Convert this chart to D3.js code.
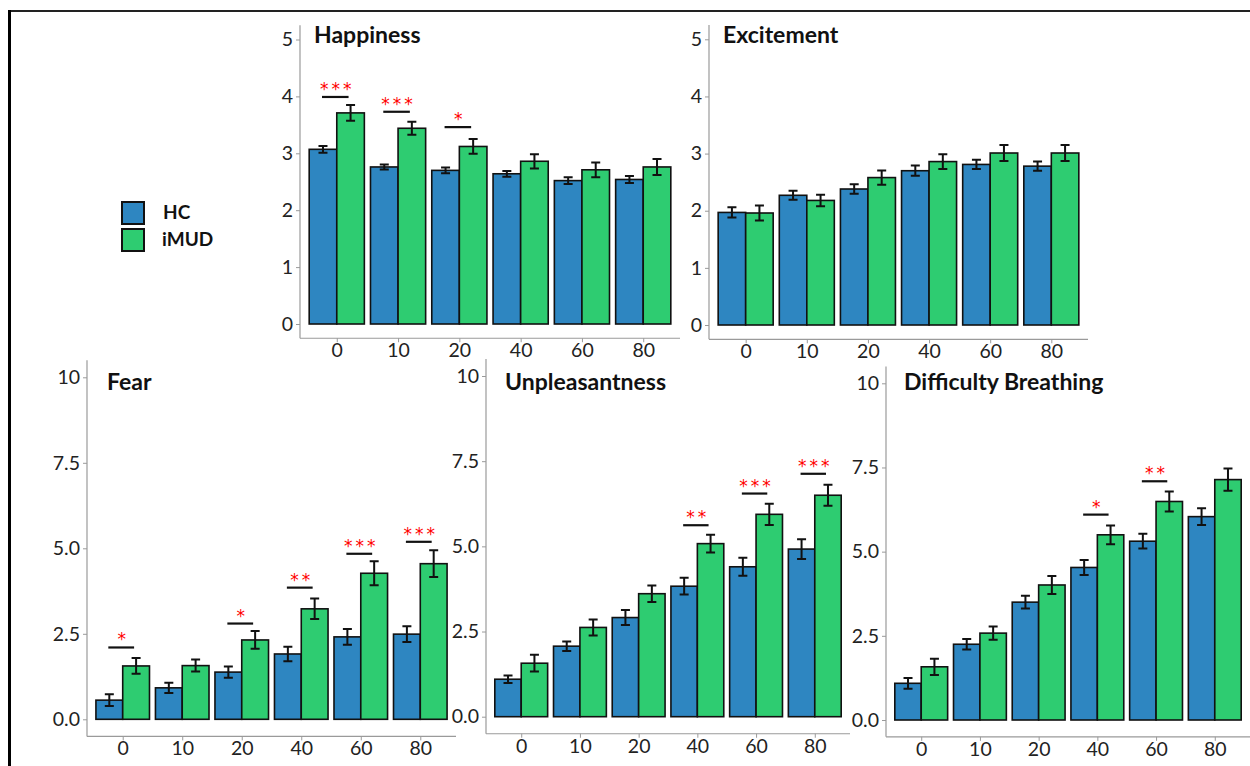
<!DOCTYPE html>
<html lang="en">
  <head>
    <meta charset="utf-8">
<style>
body { margin: 0; background: #fff; }
svg text { font-family: Lato, "Open Sans", sans-serif; }
.tick-label { font-size: 19.5px; fill: #222; }
.title { font-size: 23px; font-weight: bold; fill: #111; }
svg text.star { font-family: "DejaVu Sans", sans-serif; font-size: 17px; fill: #ff0000; letter-spacing: 3px; }
</style>
</head>
<body>
<script src="https://d3js.org/d3.v7.min.js"></script>
<script>
var doses = ["0", "10", "20", "40", "60", "80"];
var groups = ["HC", "iMUD"];
var colors = ["#2E86C1", "#2ECC71"];

// values (mean, se)
var happinessHC     = [3.07, 2.76, 2.70, 2.64, 2.52, 2.54];
var happinessHCse   = [0.06, 0.045, 0.05, 0.05, 0.06, 0.06];
var happinessMUD    = [3.71, 3.44, 3.12, 2.86, 2.71, 2.76];
var happinessMUDse  = [0.14, 0.115, 0.13, 0.125, 0.13, 0.14];
var happinessSigDose  = ["0", "10", "20"];
var happinessSigLabel = ["***", "***", "*"];
var happinessSigY     = [3.99, 3.73, 3.46];

var excitementHC    = [1.97, 2.27, 2.38, 2.70, 2.81, 2.78];
var excitementHCse  = [0.09, 0.08, 0.085, 0.09, 0.08, 0.08];
var excitementMUD   = [1.96, 2.18, 2.58, 2.86, 3.01, 3.01];
var excitementMUDse = [0.13, 0.10, 0.125, 0.13, 0.14, 0.14];

var fearHC     = [0.56, 0.92, 1.38, 1.91, 2.41, 2.49];
var fearHCse   = [0.17, 0.15, 0.165, 0.21, 0.23, 0.23];
var fearMUD    = [1.56, 1.57, 2.32, 3.23, 4.27, 4.55];
var fearMUDse  = [0.23, 0.175, 0.26, 0.30, 0.35, 0.39];
var fearSigDose  = ["0", "20", "40", "60", "80"];
var fearSigLabel = ["*", "*", "**", "***", "***"];
var fearSigY     = [2.10, 2.80, 3.85, 4.84, 5.19];

var unpleasHC    = [1.10, 2.07, 2.91, 3.83, 4.40, 4.92];
var unpleasHCse  = [0.11, 0.14, 0.22, 0.245, 0.265, 0.29];
var unpleasMUD   = [1.57, 2.62, 3.61, 5.08, 5.94, 6.50];
var unpleasMUDse = [0.245, 0.235, 0.24, 0.26, 0.31, 0.31];
var unpleasSigDose  = ["40", "60", "80"];
var unpleasSigLabel = ["**", "***", "***"];
var unpleasSigY     = [5.62, 6.55, 7.13];

var breathHC    = [1.09, 2.25, 3.50, 4.53, 5.31, 6.04];
var breathHCse  = [0.16, 0.155, 0.19, 0.22, 0.22, 0.25];
var breathMUD   = [1.58, 2.58, 4.01, 5.50, 6.49, 7.14];
var breathMUDse = [0.24, 0.20, 0.27, 0.28, 0.30, 0.33];
var breathSigDose  = ["40", "60"];
var breathSigLabel = ["*", "**"];
var breathSigY     = [6.10, 7.09];

var smallTicks = [0, 1, 2, 3, 4, 5];
var bigTicks = [0, 2.5, 5, 7.5, 10];

var width = 1250, height = 766;
var svg = d3.select("body").append("svg")
    .attr("width", width)
    .attr("height", height);

// frame
svg.append("line").attr("x1", 9).attr("x2", width).attr("y1", 11).attr("y2", 11)
    .attr("stroke", "#222").attr("stroke-width", 2);
svg.append("line").attr("x1", 9.5).attr("x2", 9.5).attr("y1", 10).attr("y2", height)
    .attr("stroke", "#000").attr("stroke-width", 3);

var bigFmt = function(d) { return d === 10 ? "10" : d.toFixed(1); };

var panels = [
  {title: "Happiness", hc: happinessHC, hcse: happinessHCse, md: happinessMUD, mdse: happinessMUDse,
   sigDose: happinessSigDose, sigLabel: happinessSigLabel, sigY: happinessSigY,
   max: 5, ticks: smallTicks, fmt: d3.format("d"),
   x0: 300, x1: 680, yZero: 324, yMax: 39.5, titleX: 314, titleY: 43},
  {title: "Excitement", hc: excitementHC, hcse: excitementHCse, md: excitementMUD, mdse: excitementMUDse,
   sigDose: [], sigLabel: [], sigY: [],
   max: 5, ticks: smallTicks, fmt: d3.format("d"),
   x0: 709, x1: 1088, yZero: 325, yMax: 39.3, titleX: 723, titleY: 43},
  {title: "Fear", hc: fearHC, hcse: fearHCse, md: fearMUD, mdse: fearMUDse,
   sigDose: fearSigDose, sigLabel: fearSigLabel, sigY: fearSigY,
   max: 10, ticks: bigTicks, fmt: bigFmt,
   x0: 87, x1: 456, yZero: 719.3, yMax: 377.3, titleX: 107, titleY: 390},
  {title: "Unpleasantness", hc: unpleasHC, hcse: unpleasHCse, md: unpleasMUD, mdse: unpleasMUDse,
   sigDose: unpleasSigDose, sigLabel: unpleasSigLabel, sigY: unpleasSigY,
   max: 10, ticks: bigTicks, fmt: bigFmt,
   x0: 486, x1: 850, yZero: 716.7, yMax: 376, titleX: 505, titleY: 390},
  {title: "Difficulty Breathing", hc: breathHC, hcse: breathHCse, md: breathMUD, mdse: breathMUDse,
   sigDose: breathSigDose, sigLabel: breathSigLabel, sigY: breathSigY,
   max: 10, ticks: bigTicks, fmt: bigFmt,
   x0: 886, x1: 1250, yZero: 720, yMax: 383.3, titleX: 904, titleY: 390}
];

panels.forEach(drawPanel);

function drawPanel(p) {
  var g = svg.append("g");
  var y = d3.scaleLinear().domain([0, p.max]).range([p.yZero, p.yMax]);
  var pad = p.max * 0.05;
  var yBottom = y(-pad), yTop = y(p.max + pad);
  var x = d3.scalePoint().domain(doses).range([p.x0, p.x1]).padding(0.6);
  var bw = x.step() * 0.45;

  // axes
  var ya = g.append("g").attr("transform", "translate(" + p.x0 + ",0)")
      .call(d3.axisLeft(y).tickValues(p.ticks).tickFormat(p.fmt).tickSize(4).tickPadding(3));
  ya.select(".domain").attr("d", "M0," + yBottom + "V" + yTop);
  var xa = g.append("g").attr("transform", "translate(0," + yBottom + ")")
      .call(d3.axisBottom(x).tickSize(4).tickPadding(1));
  [ya, xa].forEach(function(a) {
    a.select(".domain").attr("stroke", "#9a9a9a").attr("stroke-width", 1.2);
    a.selectAll(".tick line").attr("stroke", "#9a9a9a");
    a.selectAll(".tick text").attr("class", "tick-label").attr("font-size", null).attr("font-family", null);
  });
  xa.select(".domain").attr("d", "M" + p.x0 + ",0H" + p.x1);

  var rows = doses.map(function(d, i) {
    return {dose: d, vals: [p.hc[i], p.md[i]], se: [p.hcse[i], p.mdse[i]]};
  });

  rows.forEach(function(r) {
    r.vals.forEach(function(v, k) {
      var bx = x(r.dose) - bw + k * bw;
      g.append("rect")
          .attr("x", bx).attr("width", bw)
          .attr("y", y(v)).attr("height", y(0) - y(v))
          .attr("fill", colors[k]).attr("stroke", "#111").attr("stroke-width", 1.6);
    });
  });
  rows.forEach(function(r) {
    r.vals.forEach(function(v, k) {
      var cx = x(r.dose) - bw / 2 + k * bw;
      var lo = y(v - r.se[k]), hi = y(v + r.se[k]);
      g.append("path")
          .attr("d", "M" + (cx - 4.5) + "," + hi + "H" + (cx + 4.5) +
                "M" + cx + "," + hi + "V" + lo +
                "M" + (cx - 4.5) + "," + lo + "H" + (cx + 4.5))
          .attr("stroke", "#111").attr("stroke-width", 2).attr("fill", "none");
    });
  });

  // significance
  p.sigDose.forEach(function(d, i) {
    var c = x(d), ly = y(p.sigY[i]);
    g.append("line")
        .attr("x1", c - bw / 2 - 1).attr("x2", c + bw / 2 - 2)
        .attr("y1", ly).attr("y2", ly)
        .attr("stroke", "#111").attr("stroke-width", 2.2);
    g.append("text").attr("class", "star")
        .attr("x", c + 0.5).attr("y", ly - 2)
        .attr("text-anchor", "middle")
        .text(p.sigLabel[i]);
  });

  g.append("text").attr("class", "title")
      .attr("x", p.titleX).attr("y", p.titleY)
      .text(p.title);
}

// legend
var legend = svg.append("g");
groups.forEach(function(name, k) {
  legend.append("rect")
      .attr("x", 122).attr("y", 202 + k * 27)
      .attr("width", 22).attr("height", 22)
      .attr("fill", colors[k]).attr("stroke", "#111").attr("stroke-width", 2);
  legend.append("text")
      .attr("x", 162 + (k === 0 ? 1 : 0)).attr("y", 219 + k * 27)
      .attr("font-size", 19).attr("font-weight", "bold").attr("fill", "#111")
      .text(name);
});
</script>
</body>
</html>
